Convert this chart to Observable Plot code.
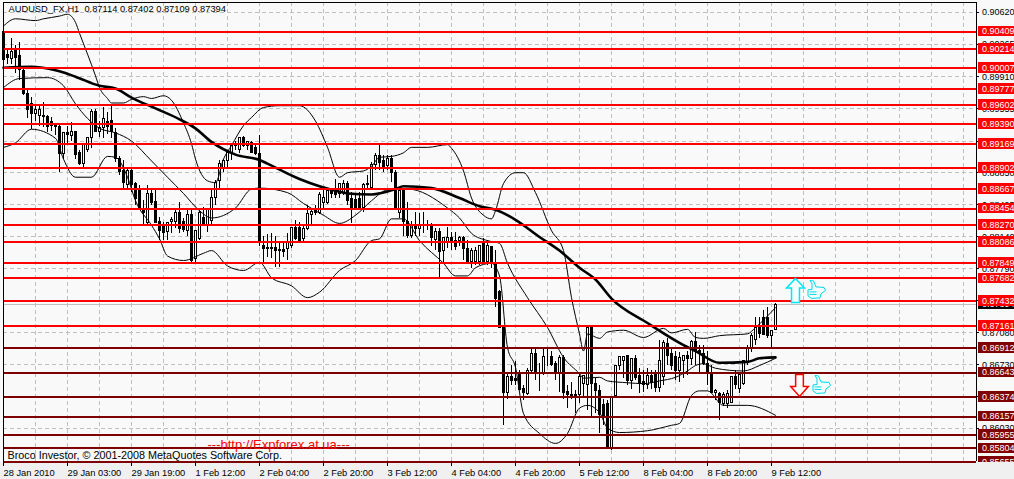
<!DOCTYPE html>
<html><head><meta charset="utf-8">
<script src="https://cdn.jsdelivr.net/npm/d3@7"></script>
<script src="https://cdn.jsdelivr.net/npm/@observablehq/plot@0.6"></script>
<style>html,body{margin:0;padding:0;background:#f9f9f9;overflow:hidden}svg{display:block}</style>
</head><body><div id="chart"></div>
<script>
// OHLC per hourly bar, price x 10^4
const opens=[9040,9015,9011,9019,9014,8997,8972,8961,8950,8948,
8948,8947,8941,8937,8936,8906,8929,8926,8930,8907,
8895,8910,8923,8952,8930,8934,8941,8942,8929,8900,
8887,8871,8887,8873,8865,8845,8829,8862,8853,8830,
8827,8819,8831,8830,8840,8830,8821,8838,8790,8812,
8835,8826,8832,8857,8876,8889,8898,8907,8914,8910,
8923,8914,8918,8912,8906,8804,8802,8801,8802,8800,
8800,8801,8804,8824,8824,8812,8823,8838,8845,8841,
8852,8852,8866,8867,8861,8863,8873,8856,8855,8856,
8846,8871,8868,8893,8904,8898,8892,8900,8885,8840,
8865,8830,8815,8826,8823,8826,8827,8826,8811,8820,
8798,8808,8813,8810,8810,8813,8801,8786,8786,8786,
8807,8786,8803,8785,8753,8713,8642,8659,8657,8661,
8646,8641,8666,8685,8664,8664,8681,8681,8674,8664,
8680,8643,8639,8639,8639,8652,8651,8713,8652,8644,
8628,8630,8581,8638,8672,8677,8682,8655,8679,8660,
8654,8651,8660,8663,8647,8659,8696,8685,8681,8666,
8677,8683,8679,8698,8688,8685,8674,8664,8642,8641,
8629,8630,8631,8659,8646,8652,8676,8690,8700,8716,
8725,8725,8705,8711.4];
const highs=[9042,9022,9033,9025,9029,9001,8976,8968,8958,8958,
8963,8948,8946,8939,8937,8929,8936,8940,8931,8909,
8917,8923,8955,8955,8942,8957,8951,8959,8934,8903,
8898,8889,8889,8874,8871,8854,8871,8865,8865,8835,
8830,8830,8835,8843,8852,8834,8843,8843,8821,8843,
8847,8845,8865,8876,8898,8900,8909,8917,8920,8924,
8925,8920,8920,8915,8926,8815,8817,8818,8815,8808,
8809,8818,8824,8832,8830,8826,8849,8845,8849,8863,
8865,8865,8868,8878,8873,8876,8875,8863,8862,8863,
8873,8882,8896,8906,8917,8904,8904,8904,8887,8865,
8867,8852,8831,8841,8840,8841,8832,8829,8823,8823,
8813,8824,8819,8819,8815,8815,8810,8801,8802,8804,
8812,8810,8804,8799,8755,8716,8664,8672,8677,8666,
8650,8669,8691,8691,8674,8692,8692,8688,8677,8683,
8683,8650,8653,8644,8663,8661,8714,8715,8658,8650,
8635,8633,8637,8672,8682,8682,8683,8680,8683,8669,
8666,8669,8666,8666,8700,8700,8702,8692,8688,8686,
8683,8688,8700,8708,8694,8694,8688,8672,8646,8642,
8642,8644,8659,8666,8664,8677,8694,8707,8725,8725,
8733,8736,8711,8740.2];
const lows=[9005,9005,9005,8995,8987,8970,8945,8933,8942,8936,
8935,8929,8931,8926,8885,8900,8915,8920,8900,8893,
8889,8907,8912,8930,8924,8923,8927,8923,8896,8882,
8867,8868,8863,8849,8843,8826,8826,8849,8829,8810,
8810,8810,8818,8823,8818,8819,8814,8786,8786,8810,
8826,8819,8826,8849,8865,8885,8889,8898,8909,8906,
8913,8909,8906,8904,8804,8786,8791,8790,8780,8780,
8791,8788,8801,8810,8810,8808,8821,8826,8838,8839,
8843,8850,8856,8857,8856,8860,8849,8829,8843,8843,
8841,8865,8865,8887,8887,8885,8887,8874,8846,8834,
8815,8812,8812,8815,8815,8818,8821,8804,8799,8769,
8785,8801,8799,8799,8804,8788,8785,8779,8782,8782,
8786,8782,8779,8736,8713,8606,8635,8650,8650,8645,
8633,8639,8664,8655,8643,8661,8671,8671,8655,8642,
8634,8624,8635,8619,8630,8637,8622,8614,8619,8597,
8606,8579,8578,8637,8666,8658,8650,8646,8655,8641,
8642,8646,8646,8642,8642,8650,8672,8666,8655,8653,
8658,8661,8672,8672,8664,8672,8650,8641,8633,8611,
8627,8624,8630,8646,8641,8650,8672,8686,8694,8702,
8705,8702,8690,8710.9];
const closes=[9009,9012,9018,9012,8998,8972,8954,8950,8954,8954,
8946,8935,8937,8935,8906,8929,8927,8930,8905,8895,
8916,8923,8952,8930,8934,8944,8935,8930,8900,8886,
8874,8887,8871,8856,8845,8840,8861,8852,8829,8821,
8818,8829,8833,8841,8823,8822,8838,8788,8821,8840,
8826,8845,8857,8874,8895,8898,8907,8915,8917,8923,
8915,8919,8907,8906,8807,8801,8801,8802,8798,8799,
8797,8807,8824,8812,8810,8823,8839,8842,8841,8860,
8857,8865,8862,8860,8873,8873,8854,8845,8845,8845,
8871,8873,8893,8904,8896,8889,8900,8885,8846,8865,
8830,8815,8826,8823,8826,8827,8826,8813,8819,8797,
8813,8813,8807,8803,8813,8801,8785,8798,8798,8804,
8786,8804,8785,8746,8713,8642,8659,8655,8655,8645,
8642,8666,8685,8665,8663,8681,8681,8673,8664,8680,
8642,8639,8638,8637,8659,8660,8713,8652,8644,8617,
8614,8581,8637,8672,8681,8681,8655,8679,8658,8652,
8650,8660,8653,8647,8677,8697,8683,8672,8666,8680,
8683,8679,8698,8688,8685,8674,8664,8642,8644,8631,
8639,8641,8659,8651,8662,8677,8690,8705,8714,8707,
8706,8705,8710,8739.4];

// Indicators: [bar], [price x 10^4]
const maBars=[0,7,11,14,18,24,28,32,38,44,48,52,58,64,66,74,79,84,86,92,98,100,107,114,119,123,128,134,139,144,148,152,161,169,173,179,186,189,193];
const maVals=[9001,9002,9000,8997,8991,8981,8978,8968,8956,8944,8934,8919,8905,8899,8895,8878,8870,8864,8862,8861,8867,8870,8868,8857,8848,8844,8833,8814,8799,8780,8767,8746,8719,8697,8688,8675,8676,8680,8681];

const upperBars=[0,3,8,10,14,16,18,19,21,23,24,26,27,30,32,35,37,40,42,45,47,48,51,53,55,57,60,62,65,69,74,78,81,84,86,90,92,94,97,100,102,106,111,112,115,117,120,122,123,125,128,130,133,137,140,142,144,145,146,149,151,155,160,165,167,171,173,175,179,186,188,193];
const upperVals=[9047,9055,9053,9055,9058,9060,9051,9039,9016,8992,8979,8967,8962,8962,8966,8969,8967,8970,8965,8940,8917,8900,8876,8874,8900,8915,8937,8946,8957,8959,8959,8942,8913,8880,8885,8887,8892,8902,8903,8907,8913,8913,8916,8912,8887,8857,8838,8834,8843,8873,8885,8885,8863,8821,8799,8747,8707,8688,8707,8702,8709,8711,8703,8713,8708,8712,8703,8702,8705,8707,8714,8736];

const midBars=[0,4,11,15,18,21,24,28,32,37,41,45,49,52,58,62,64,71,75,80,84,88,92,96,101,111,114,117,121,124,126,131,136,140,144,145,149,151,156,160,164,168,171,173,175,178,185,189,193];
const midVals=[8979,8989,8990,8981,8961,8945,8934,8929,8920,8898,8880,8862,8843,8835,8846,8867,8868,8863,8851,8838,8829,8838,8854,8866,8867,8846,8835,8818,8810,8807,8785,8747,8714,8681,8663,8658,8659,8655,8653,8652,8655,8659,8666,8672,8674,8669,8666,8672,8680];

const lowerBars=[0,3,7,13,15,18,22,26,28,31,33,37,39,41,45,50,52,56,60,64,67,72,76,79,84,88,92,94,97,100,104,110,113,116,118,122,124,126,128,130,134,138,141,144,146,149,151,154,161,167,169,172,174,176,180,186,193];
const lowerVals=[8913,8918,8933,8923,8900,8880,8880,8903,8902,8880,8854,8827,8812,8793,8788,8796,8799,8782,8777,8786,8769,8760,8747,8753,8777,8788,8810,8812,8834,8834,8810,8785,8771,8771,8780,8785,8771,8692,8670,8619,8597,8586,8597,8625,8628,8620,8603,8598,8600,8606,8608,8639,8644,8644,8628,8628,8617];

// Horizontal levels and right axis
const redLevels=[0.90409,0.90214,0.90007,0.89777,0.89602,0.8939,0.89169,0.88902,0.88667,0.88454,0.8827,0.88086,0.87849,0.87682,0.87432,0.87161];
const darkLevels=[0.86912,0.86643,0.86374,0.86157,0.85955,0.85804,0.85655];
const priceTicks=[0.9062,0.90265,0.8991,0.89555,0.892,0.8885,0.88495,0.8814,0.8779,0.87435,0.8708,0.8673,0.8638,0.8603];
const coveredTicks=[0.87435,0.8638]; // lie wholly under a level's label box
const lastPrice=0.87394;

// Time axis
const gridBars=[8,16,24,32,40,48,56,64,72,80,88,96,104,112,120,128,136,144,152,160,168,176,184,192,200,208,216,224,232,240];
const timeBars=[0,16,32,48,64,80,96,112,128,144,160,176,192];
const timeLabels=["28 Jan 2010","29 Jan 03:00","29 Jan 19:00","1 Feb 12:00","2 Feb 04:00","2 Feb 20:00","3 Feb 12:00","4 Feb 04:00","4 Feb 20:00","5 Feb 12:00","8 Feb 04:00","8 Feb 20:00","9 Feb 12:00"];

const titleText="AUDUSD_FX,H1\u00a0\u00a00.87114 0.87402 0.87109 0.87394";
const creditText="Broco Investor, © 2001-2008 MetaQuotes Software Corp.";
const urlText="---http://Expforex.at.ua---";

const xMax=243.25, yMin=0.8566, yMax=0.9073;
const font="'Liberation Sans'";
const P=v=>v/1e4;
const idx=d3.range(opens.length);
const up=idx.filter(i=>closes[i]>=opens[i]);
const down=idx.filter(i=>closes[i]<opens[i]);
const series=(xs,ys)=>xs.map((b,i)=>({b,v:P(ys[i])}));
const crisp={shapeRendering:"crispEdges"};

// Annotation glyphs
const arrowUp={draw(c,s){const r=Math.sqrt(s/Math.PI);c.moveTo(0,-r);c.lineTo(r*.75,-r*.2);c.lineTo(r*.33,-r*.2);c.lineTo(r*.33,r);c.lineTo(-r*.33,r);c.lineTo(-r*.33,-r*.2);c.lineTo(-r*.75,-r*.2);c.closePath();}};
const arrowDown={draw(c,s){const r=Math.sqrt(s/Math.PI);c.moveTo(0,r);c.lineTo(r*.8,r*.1);c.lineTo(r*.35,r*.1);c.lineTo(r*.35,-r);c.lineTo(-r*.35,-r);c.lineTo(-r*.35,r*.1);c.lineTo(-r*.8,r*.1);c.closePath();}};
const thumb={draw(c,s){const r=Math.sqrt(s/Math.PI);
 c.moveTo(-r*.75,-r*.05);c.lineTo(-r*.35,-r*.1);c.lineTo(-r*.35,-r*.65);c.lineTo(-r*.55,-r);c.lineTo(-r*.2,-r*.95);c.lineTo(r*.05,-r*.35);c.lineTo(r*.85,-r*.3);c.lineTo(r,r*.0);c.lineTo(r*.55,r*.35);c.lineTo(r*.45,r*.75);c.lineTo(-r*.4,r*.8);c.lineTo(-r*.75,r*.55);c.closePath();
 c.moveTo(-r*.6,r*.15);c.lineTo(r*.1,r*.15);c.moveTo(-r*.6,r*.4);c.lineTo(r*.1,r*.4);}};

const labelBox=(data,fill)=>Plot.rect(data,{x1:243.75,x2:262,y1:d=>d-0.00060,y2:d=>d+0.00060,fill,...crisp});
const labelText=(data,fill)=>Plot.text(data,{x:244.6,y:d=>d,text:d=>d.toFixed(5),textAnchor:"start",fill,fontSize:9,fontFamily:font});

const plot=Plot.plot({
  width:1014,height:479,margin:0,
  style:{background:"#f9f9f9",overflow:"hidden"},
  x:{domain:[0,xMax],range:[3,976],axis:null},
  y:{domain:[yMin,yMax],range:[461,2],axis:null},
  marks:[
    Plot.ruleX(gridBars,{y1:yMin,y2:yMax,stroke:"#c0c0c0",strokeDasharray:"4,3",...crisp}),
    Plot.ruleY(priceTicks,{x1:0,x2:xMax,stroke:"#c0c0c0",strokeDasharray:"4,3",...crisp}),
    Plot.ruleY([lastPrice],{x1:0,x2:xMax,stroke:"#c0c0c0",...crisp}),
    Plot.ruleX(idx,{x:i=>i,y1:i=>P(lows[i]),y2:i=>P(highs[i]),stroke:"black",...crisp}),
    Plot.rect(down,{x1:i=>i-0.25,x2:i=>i+0.25,y1:i=>P(closes[i]),y2:i=>P(opens[i]),fill:"black",stroke:"black",...crisp}),
    Plot.rect(up,{x1:i=>i-0.25,x2:i=>i+0.25,y1:i=>P(opens[i]),y2:i=>P(closes[i]),fill:"white",stroke:"black",...crisp}),
    Plot.line(series(upperBars,upperVals),{x:"b",y:"v",stroke:"black",strokeWidth:1,curve:"monotone-x"}),
    Plot.line(series(midBars,midVals),{x:"b",y:"v",stroke:"black",strokeWidth:1,curve:"monotone-x"}),
    Plot.line(series(lowerBars,lowerVals),{x:"b",y:"v",stroke:"black",strokeWidth:1,curve:"monotone-x"}),
    Plot.line(series(maBars,maVals),{x:"b",y:"v",stroke:"black",strokeWidth:2.6,curve:"monotone-x"}),
    Plot.ruleY(redLevels,{x1:0,x2:xMax,stroke:"#ff0000",strokeWidth:2,...crisp}),
    Plot.ruleY(darkLevels,{x1:0,x2:xMax,stroke:"#800000",strokeWidth:2,...crisp}),
    // frame
    Plot.ruleX([0,xMax],{y1:yMin,y2:yMax,stroke:"black",...crisp}),
    Plot.ruleY([yMin,yMax],{x1:0,x2:xMax,stroke:"black",...crisp}),
    // ticks
    Plot.ruleY(priceTicks,{x1:xMax,x2:xMax+0.75,stroke:"black",...crisp}),
    // price axis
    labelText(priceTicks.filter(t=>!coveredTicks.includes(t)),"#000"),
    labelBox([lastPrice],"#000"),
    labelText([lastPrice],"#fff"),
    labelBox(redLevels,"#ff0000"),
    labelText(redLevels,"#fff"),
    labelBox(darkLevels,"#800000"),
    labelText(darkLevels,"#fff"),
    // strip under the chart hides the lower half of the last label
    Plot.rect([0],{x1:-1,x2:262,y1:0.8500,y2:yMin-0.00012,fill:"#f0f0f0",...crisp}),
    Plot.ruleY([darkLevels[darkLevels.length-1]],{x1:0,x2:xMax,stroke:"#800000",strokeWidth:2,...crisp}),
    Plot.ruleX(timeBars,{y1:yMin,y2:yMin-0.0005,stroke:"black",...crisp}),
    // time axis
    Plot.text(timeBars,{x:d=>d,text:(d,i)=>timeLabels[i],frameAnchor:"bottom",dy:-4,textAnchor:"start",fill:"#000",fontSize:9.3,fontFamily:font}),
    // chart texts
    Plot.text([titleText],{frameAnchor:"top-left",dx:8,dy:5,textAnchor:"start",fill:"#000",fontSize:9.3,fontFamily:font}),
    Plot.text([urlText],{frameAnchor:"bottom-left",dx:207,dy:-31,textAnchor:"start",fill:"#ff0000",fontSize:13,fontFamily:font}),
    Plot.text([creditText],{frameAnchor:"bottom-left",dx:7,dy:-21,textAnchor:"start",fill:"#000",fontSize:10.8,fontFamily:font}),
    // annotations
    Plot.dot([{b:198,v:0.8755}],{x:"b",y:"v",r:12,symbol:arrowUp,fill:"#f4ffff",stroke:"#00e5f5",strokeWidth:1.5}),
    Plot.dot([{b:199,v:0.8650}],{x:"b",y:"v",r:11,symbol:arrowDown,fill:"#fff",stroke:"#ff0000",strokeWidth:1.5}),
    Plot.dot([{b:203,v:0.8755},{b:204.25,v:0.8650}],{x:"b",y:"v",r:10,symbol:thumb,fill:"#f4ffff",stroke:"#00d8e8",strokeWidth:1})
  ]
});
document.getElementById("chart").append(plot);
</script></body></html>
